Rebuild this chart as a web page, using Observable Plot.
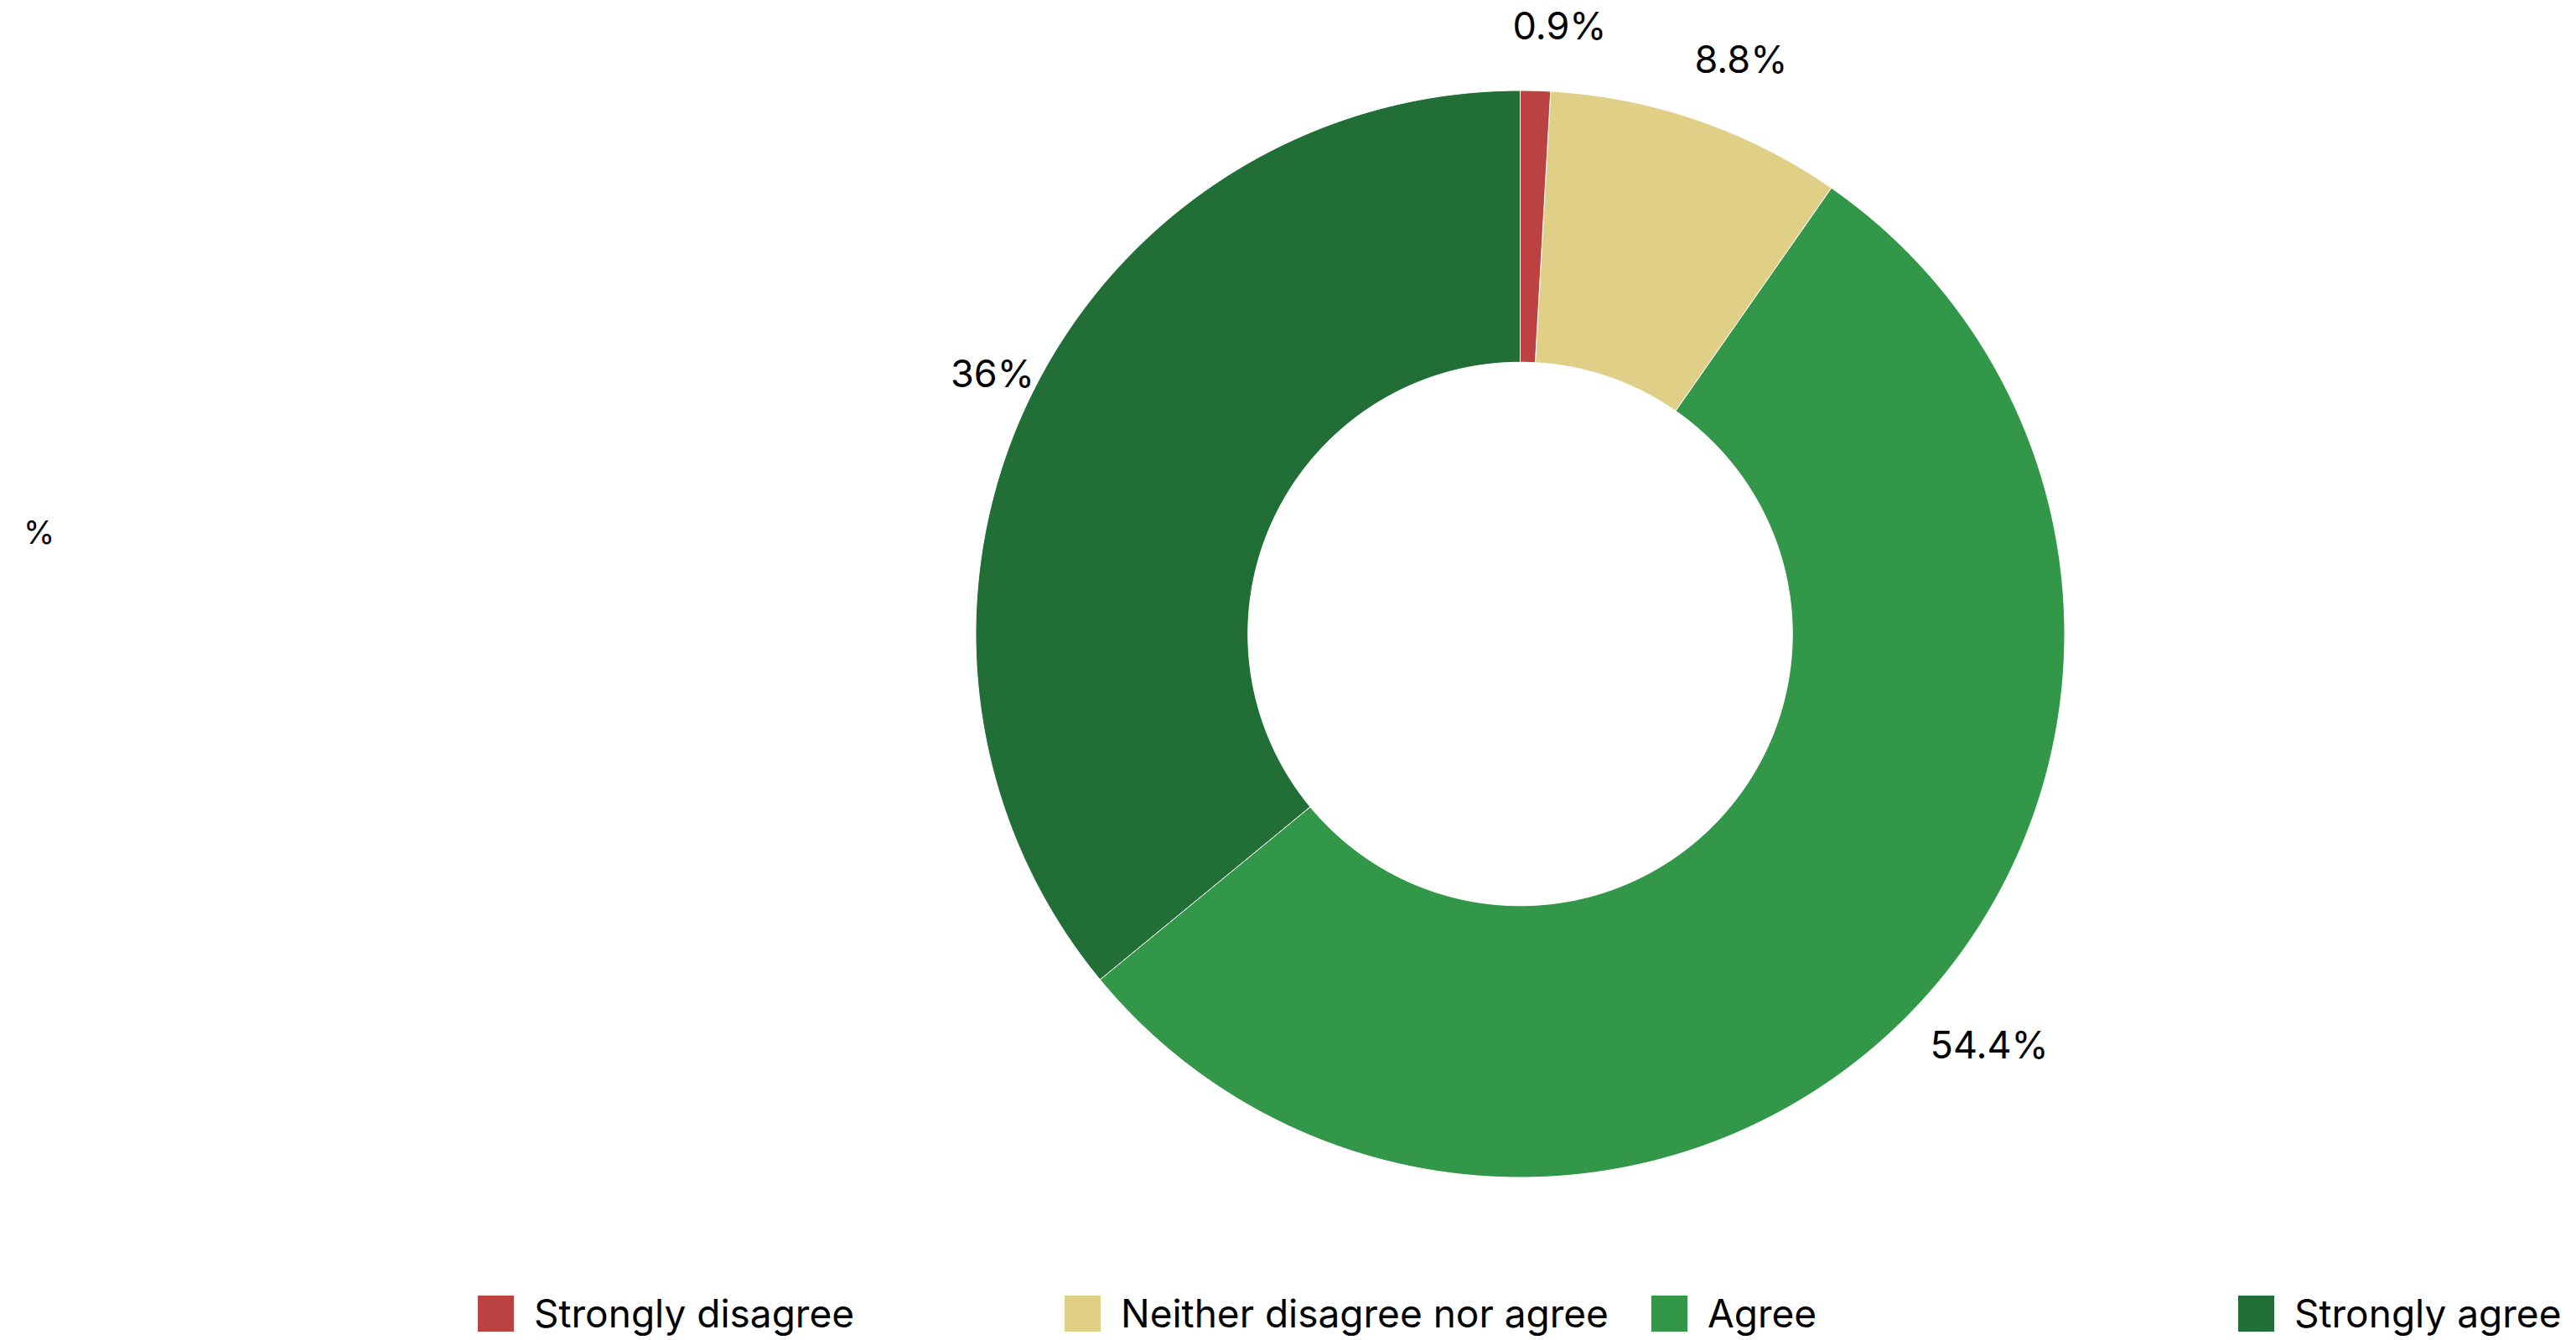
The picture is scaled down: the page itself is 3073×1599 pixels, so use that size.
<!DOCTYPE html>
<html>
<head>
<meta charset="utf-8">
<script src="https://cdn.jsdelivr.net/npm/d3@7"></script>
<script src="https://cdn.jsdelivr.net/npm/@observablehq/plot@0.6"></script>
<style>
  html, body { margin: 0; padding: 0; background: #fff; overflow: hidden; }
  body { width: 3073px; height: 1599px; position: relative; font-family: Inter, "Noto Sans", sans-serif; color: #000; }
  #chart { position: absolute; left: 0; top: 0; }
  #ylabel { position: absolute; left: 28px; top: 612px; font-size: 38px; line-height: 46px; }
  #legend { position: absolute; left: 570px; top: 1546px; display: flex; white-space: nowrap; }
  .item { display: flex; align-items: center; width: 700px; font-size: 46px; line-height: 43px; }
  .item:last-child { width: auto; }
  .sw { width: 43px; height: 43px; margin-right: 24px; flex: none; }
</style>
</head>
<body>
<div id="chart"></div>
<div id="ylabel">%</div>
<div id="legend"></div>
<script>
const categories = ["Strongly disagree", "Neither disagree nor agree", "Agree", "Strongly agree"];
const values = [0.9, 8.8, 54.4, 36];
const labels = ["0.9%", "8.8%", "54.4%", "36%"];
const colors = ["#bc4141", "#dfcf87", "#33974a", "#216e37"];

const rows = categories.map((c, i) => ({cat: c, value: values[i], label: labels[i]}));
const arcs = d3.pie().sort(null).value(d => d.value)(rows);

const innerR = 0.5, outerR = 1;
const pts = [];
for (const a of arcs) {
  const n = Math.max(2, Math.ceil((a.endAngle - a.startAngle) / (2 * Math.PI) * 720));
  for (let k = 0; k <= n; k++) {
    const t = a.startAngle + (a.endAngle - a.startAngle) * k / n;
    pts.push({
      cat: a.data.cat,
      xo: outerR * Math.sin(t), yo: outerR * Math.cos(t),
      xi: innerR * Math.sin(t), yi: innerR * Math.cos(t)
    });
  }
}
const labelR = 1.117;
const labelPts = arcs.map(a => {
  const m = (a.startAngle + a.endAngle) / 2;
  return {label: a.data.label, x: labelR * Math.sin(m), y: labelR * Math.cos(m)};
});

const chart = Plot.plot({
  width: 3073,
  height: 1510,
  marginLeft: 1164,
  marginRight: 610,
  marginTop: 108,
  marginBottom: 105,
  x: {domain: [-1, 1], axis: null},
  y: {domain: [-1, 1], axis: null},
  color: {domain: categories, range: colors},
  style: {fontFamily: "Inter, 'Noto Sans', sans-serif", background: "#fff", overflow: "visible"},
  marks: [
    Plot.area(pts, {x1: "xo", y1: "yo", x2: "xi", y2: "yi", z: "cat", fill: "cat", stroke: "#fff", strokeWidth: 1}),
    Plot.text(labelPts, {x: "x", y: "y", text: "label", fontSize: 45, fill: "#000", dx: 26, textAnchor: "middle"})
  ]
});
document.getElementById("chart").appendChild(chart);

const legend = document.getElementById("legend");
categories.forEach((c, i) => {
  const it = document.createElement("div");
  it.className = "item";
  const sw = document.createElement("div");
  sw.className = "sw";
  sw.style.background = colors[i];
  const tx = document.createElement("span");
  tx.textContent = c;
  it.appendChild(sw);
  it.appendChild(tx);
  legend.appendChild(it);
});
</script>
</body>
</html>
